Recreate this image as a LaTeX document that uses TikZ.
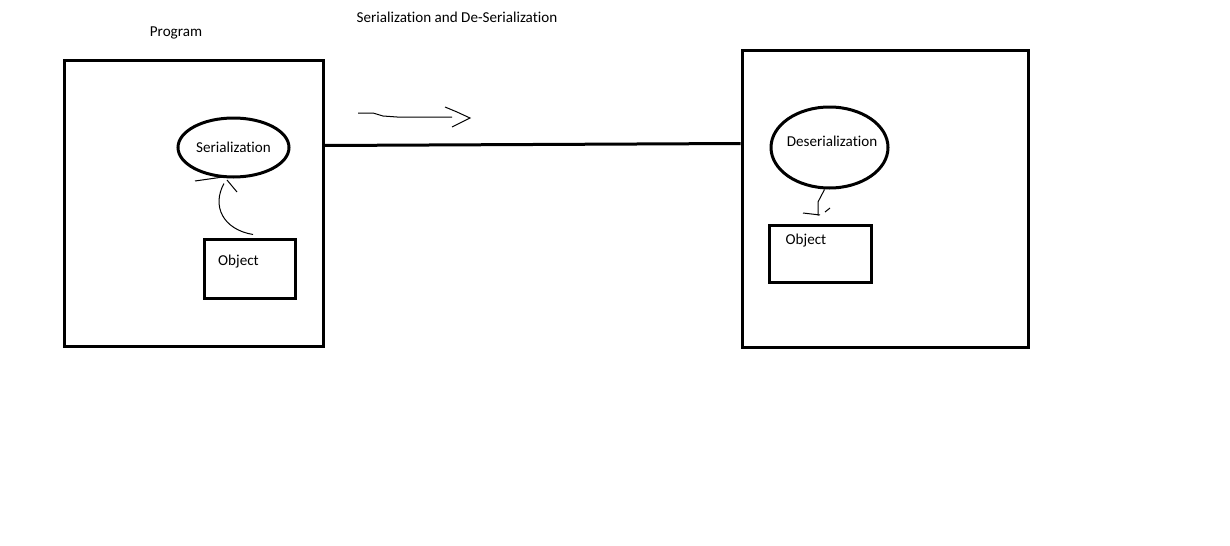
\documentclass[tikz,border=0pt]{standalone}
\usepackage{fontspec}
\setmainfont[Ligatures={NoCommon}]{Carlito}
\usepackage{tikz}
\usetikzlibrary{shapes.geometric}

\tikzset{
  thickbox/.style={draw, line width=0.06cm, inner sep=0cm},
  thickoval/.style={draw, ellipse, line width=0.06cm, inner sep=0cm,
    font=\fontsize{8.6}{10}\selectfont},
  thinstroke/.style={line width=0.02cm},
  txt/.style={font=\fontsize{8.6}{10}\selectfont, inner sep=0cm}
}

\begin{document}
\begin{tikzpicture}
\useasboundingbox (0,0) rectangle (24.6,10.9);

\draw (3.52, 10.24) node[txt] (progtitle) {Program};
\draw (9.14, 10.56) node[txt] (title) {Serialization and De-Serialization};

\draw (3.87, 6.84)
  node[thickbox, minimum width=5.18cm, minimum height=5.72cm] (prog) {};
\draw (17.7, 6.93)
  node[thickbox, minimum width=5.72cm, minimum height=5.94cm] (recv) {};

\draw (4.67, 7.95)
  node[thickoval, minimum width=2.22cm, minimum height=1.18cm] (serL) {Serialization};
\draw (16.59, 7.95)
  node[thickoval, minimum width=2.34cm, minimum height=1.62cm] (serR) {};
\draw (16.64, 8.08) node[txt] (serRtext) {Deserialization};

\draw (4.99, 5.53)
  node[thickbox, minimum width=1.82cm, minimum height=1.18cm] (objL) {};
\draw (4.77, 5.66) node[txt] (objLtext) {Object};
\draw (16.4, 5.83)
  node[thickbox, minimum width=2.04cm, minimum height=1.14cm] (objR) {};
\draw (16.12, 6.08) node[txt] (objRtext) {Object};

\draw[line width=0.06cm] ([yshift=0.04cm]prog.east |- serL) -- ([yshift=0.08cm]recv.west |- serR);

\draw[thinstroke] (7.16,8.64) -- (7.46,8.64) -- (7.66,8.58) -- (7.94,8.56) -- (9.04,8.56);
\draw[thinstroke] (8.90,8.76) -- (9.14,8.66) -- (9.40,8.54) -- (9.20,8.44) -- (9.04,8.36);

\draw[thinstroke] ([xshift=0.07cm, yshift=0.06cm]objL.north)
  .. controls +(-0.6,0.1) and +(-0.25,-0.45) .. ([xshift=-0.19cm, yshift=-0.1cm]serL.south);
\draw[thinstroke] (3.90,7.28) -- (4.46,7.36);
\draw[thinstroke] (4.54,7.30) -- (4.74,7.06);

\draw[thinstroke] ([xshift=-0.1cm]serR.south) -- (16.36,6.86)
  -- ([xshift=-0.04cm, yshift=0.16cm]objR.north);
\draw[thinstroke] (16.06,6.64) -- (16.40,6.60);
\draw[thinstroke] (16.50,6.66) -- (16.60,6.74);
\end{tikzpicture}
\end{document}
